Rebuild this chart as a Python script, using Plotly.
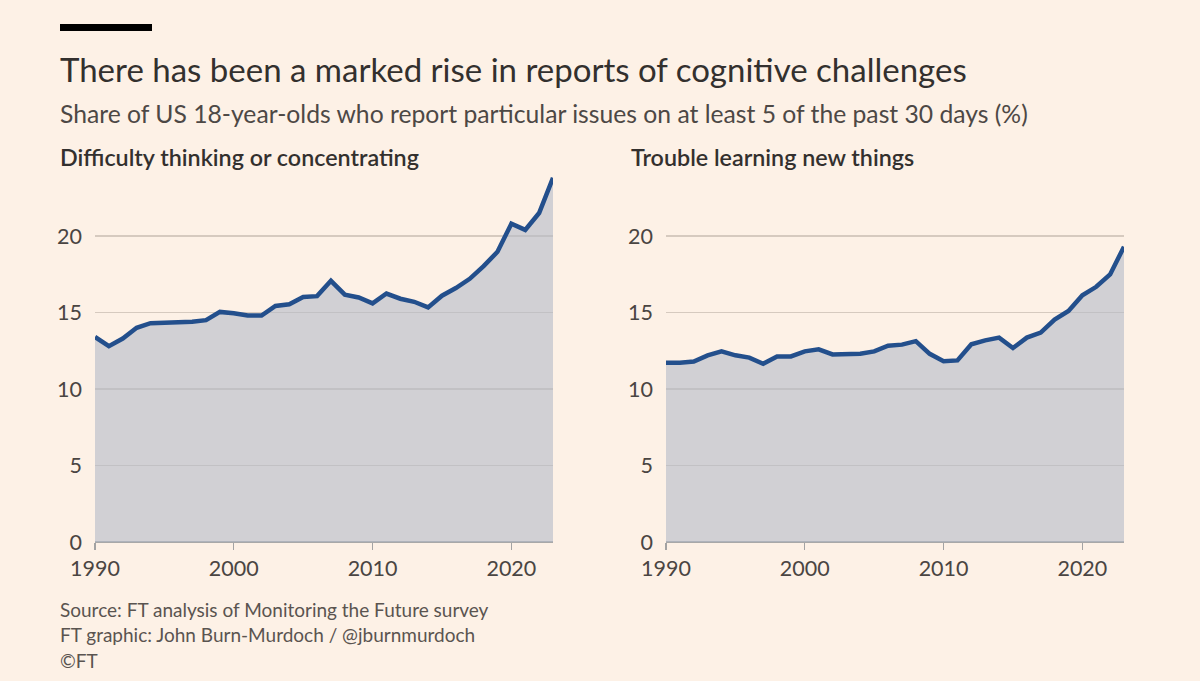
import plotly.graph_objects as go

years = list(range(1990, 2024))
thinking = [13.4, 12.8, 13.3, 14.0, 14.3, 14.33, 14.33, 14.4, 14.5, 15.04,
            14.95, 14.8, 14.8, 15.43, 15.54, 16.02, 16.07, 17.07, 16.17, 15.98,
            15.6, 16.24, 15.9, 15.7, 15.33, 16.1, 16.6, 17.2, 18.03, 18.97,
            20.8, 20.4, 21.5, 23.8]
learning = [11.72, 11.72, 11.8, 12.2, 12.46, 12.2, 12.05, 11.65, 12.13, 12.13,
            12.46, 12.59, 12.26, 12.3, 12.3, 12.46, 12.83, 12.9, 13.13, 12.3,
            11.82, 11.87, 12.92, 13.18, 13.36, 12.68, 13.36, 13.69, 14.54, 15.1,
            16.13, 16.68, 17.49, 19.3]
x_ticks = [1990, 2000, 2010, 2020]
y_ticks = [0, 5, 10, 15, 20]

title = "There has been a marked rise in reports of cognitive challenges"
subtitle = "Share of US 18-year-olds who report particular issues on at least 5 of the past 30 days (%)"
panel_titles = ["Difficulty thinking or concentrating", "Trouble learning new things"]
footer = ["Source: FT analysis of Monitoring the Future survey",
          "FT graphic: John Burn-Murdoch / @jburnmurdoch",
          "©FT"]

W, H = 1200, 681
BG = "#fdf1e6"
LINE = "#234f8c"
FILL = "rgba(180,187,200,0.6)"
GRID = "#d6cabf"
TEXT = "#33302e"
FONT = "Lato"

def px_x(p):
    return p / W

def px_y(p):
    return 1 - p / H

fig = go.Figure()
series = [thinking, learning]
for i, s in enumerate(series):
    fig.add_trace(go.Scatter(
        x=years, y=s, mode="lines",
        line=dict(color=LINE, width=4.5),
        fill="tozeroy", fillcolor=FILL,
        xaxis="x" if i == 0 else "x2",
        yaxis="y" if i == 0 else "y2",
        showlegend=False, hoverinfo="skip",
    ))

y_dom = [px_y(542), px_y(542 - 24 * 15.3)]
xa = dict(range=[1990, 2023], tickvals=x_ticks, ticks="outside", ticklen=7,
          tickcolor="#a3a3a3", tickwidth=1.2, showgrid=False, zeroline=False,
          showline=False, automargin=False,
          tickfont=dict(family=FONT, size=21.5, color="#4a4542"),
          fixedrange=True)
ya = dict(range=[0, 24], tickvals=y_ticks, showgrid=True, gridcolor=GRID,
          gridwidth=1.2, zeroline=True, zerolinecolor="#a8a8a8", zerolinewidth=1.5,
          showline=False, ticks="", ticklabelstandoff=12, automargin=False,
          tickfont=dict(family=FONT, size=21.5, color="#4a4542"), fixedrange=True)

fig.update_layout(
    width=W, height=H,
    paper_bgcolor=BG, plot_bgcolor=BG,
    margin=dict(l=0, r=0, t=0, b=0, pad=0),
    xaxis=dict(xa, domain=[px_x(95), px_x(553)], anchor="y"),
    yaxis=dict(ya, domain=y_dom, anchor="x"),
    xaxis2=dict(xa, domain=[px_x(666), px_x(1124)], anchor="y2"),
    yaxis2=dict(ya, domain=y_dom, anchor="x2"),
    font=dict(family=FONT, color=TEXT),
    hovermode=False,
)

fig.add_shape(type="rect", xref="paper", yref="paper",
              x0=px_x(60), x1=px_x(152), y0=px_y(24), y1=px_y(31),
              fillcolor="#000000", line=dict(width=0))

def ann(text, x, y, size, color=TEXT, weight="normal"):
    fig.add_annotation(text=text, x=px_x(x), y=px_y(y), xref="paper", yref="paper",
                       xanchor="left", yanchor="middle", showarrow=False,
                       font=dict(family=FONT, size=size, color=color, weight=weight))

ann(title, 58, 69, 33)
ann(subtitle, 58, 114, 24.7, color="#4d4845")
ann(panel_titles[0], 58, 157, 23.3, weight=600)
ann(panel_titles[1], 629, 157, 23.3, weight=600)
for j, t in enumerate(footer):
    ann(t, 58, 609 + 25.5 * j, 19, color="#5a5450")

fig.write_html(
    "out.html",
    config={"displayModeBar": False, "staticPlot": True},
    post_script="document.body.style.margin='0';document.body.style.overflow='hidden';",
)
